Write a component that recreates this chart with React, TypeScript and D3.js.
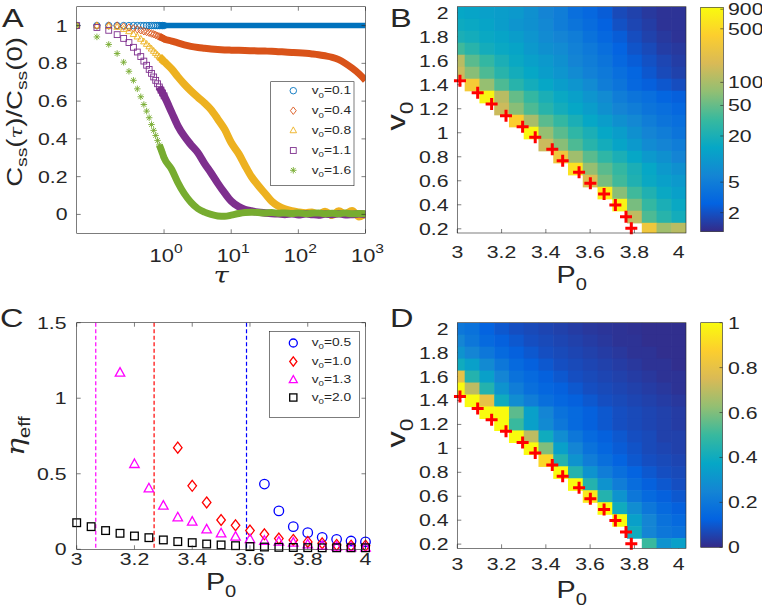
import React from "react";
import * as d3 from "d3";

// ---------------- DATA ----------------
// Panel A: normalized autocorrelation C_ss(tau)/C_ss(0)
const TAU_EARLY = [0.05, 0.1, 0.15, 0.2, 0.25, 0.3, 0.35, 0.4, 0.45, 0.5, 0.55, 0.6, 0.65, 0.7, 0.75, 0.8, 0.85, 0.9, 0.95, 1.0];
const A_EARLY_01 = [1, 1, 1, 1, 1, 1, 1, 1, 1, 1, 1, 1, 1, 1, 1, 1, 1, 1, 1, 1];
const A_EARLY_04 = [1, 1, 1, 1, 0.995, 0.99, 0.985, 0.98, 0.975, 0.97, 0.966, 0.962, 0.958, 0.954, 0.95, 0.946, 0.942, 0.938, 0.934, 0.93];
const A_EARLY_08 = [1, 1, 0.997, 0.993, 0.982, 0.97, 0.955, 0.942, 0.93, 0.916, 0.903, 0.89, 0.878, 0.866, 0.855, 0.845, 0.836, 0.827, 0.818, 0.81];
const A_EARLY_11 = [1, 0.99, 0.975, 0.952, 0.932, 0.91, 0.885, 0.86, 0.836, 0.812, 0.79, 0.768, 0.747, 0.728, 0.71, 0.692, 0.675, 0.658, 0.643, 0.628];
const A_EARLY_16 = [1, 0.94, 0.9, 0.852, 0.806, 0.758, 0.71, 0.665, 0.623, 0.582, 0.547, 0.512, 0.476, 0.445, 0.418, 0.392, 0.368, 0.345, 0.322, 0.3];

const TAU_BAND = [1.3, 1.6, 2, 2.5, 3.2, 4, 5, 6.3, 8, 10, 13, 16, 20, 25, 32, 40, 50, 63, 80, 100, 130, 160, 200, 250, 320, 400, 500, 630, 800, 1000];
const A_BAND_01 = [1, 1, 1, 1, 1, 1, 1, 1, 1, 1, 1, 1, 1, 1, 1, 1, 1, 1, 1, 1, 1, 1, 1, 1, 1, 1, 1, 1, 1, 1];
const A_BAND_04 = [0.918, 0.908, 0.898, 0.89, 0.884, 0.88, 0.876, 0.873, 0.871, 0.87, 0.869, 0.868, 0.867, 0.866, 0.865, 0.864, 0.862, 0.86, 0.858, 0.856, 0.853, 0.85, 0.846, 0.84, 0.832, 0.82, 0.8, 0.775, 0.745, 0.71];
const A_BAND_08 = [0.77, 0.73, 0.69, 0.655, 0.62, 0.59, 0.555, 0.505, 0.45, 0.38, 0.32, 0.26, 0.2, 0.155, 0.11, 0.07, 0.045, 0.028, 0.018, 0.012, 0.008, 0.012, 0.0, 0.015, -0.005, 0.018, 0.002, 0.02, -0.012, 0.005];
const A_BAND_11 = [0.54, 0.47, 0.414, 0.37, 0.326, 0.27, 0.22, 0.165, 0.113, 0.07, 0.04, 0.026, 0.018, 0.012, 0.008, 0.005, 0.003, 0.0, 0.004, -0.002, 0.003, 0.0, -0.003, 0.002, 0.0, 0.004, -0.002, 0.0, 0.003, 0.0];
const A_BAND_16 = [0.238, 0.17, 0.11, 0.065, 0.03, 0.012, 0.0, -0.008, -0.01, -0.004, 0.005, 0.01, 0.012, 0.01, 0.008, 0.01, 0.006, 0.008, 0.005, 0.007, 0.004, 0.006, 0.008, 0.003, 0.006, 0.004, 0.007, 0.003, 0.005, 0.004];

const A_LABELS = ["0.1", "0.4", "0.8", "1.1", "1.6"];
const A_COLORS = ["#0072bd", "#d95319", "#edb120", "#7e2f8e", "#77ac30"];
const A_MARKERS = ["o", "d", "^", "s", "*"];
const A_YTICKS = [0, 0.2, 0.4, 0.6, 0.8, 1];
const A_XTICKS = [1, 10, 100, 1000];
const A_XEXP = ["0", "1", "2", "3"];

// Heatmap grid (panels B and D)
const P0_COLS = [3.0, 3.0667, 3.1333, 3.2, 3.2667, 3.3333, 3.4, 3.4667, 3.5333, 3.6, 3.6667, 3.7333, 3.8, 3.8667, 3.9333, 4.0];
const V0_ROWS = [2.0, 1.9, 1.8, 1.7, 1.6, 1.5, 1.4, 1.3, 1.2, 1.1, 1.0, 0.9, 0.8, 0.7, 0.6, 0.5, 0.4, 0.3, 0.2];
const n = null;
// Panel B: relaxation time (log colour scale)
const B_VALUES = [
  [14, 13, 12, 11, 10, 8, 6, 5, 3.5, 3, 2.4, 1.8, 1.6, 1.4, 1.3, 1.3],
  [16, 15, 13, 11, 9, 8, 6.5, 5, 4, 3.3, 2.6, 2, 1.7, 1.5, 1.3, 1.3],
  [20, 18, 15, 13, 11, 9, 7, 6, 5, 3.8, 3, 2.4, 1.9, 1.6, 1.4, 1.3],
  [35, 25, 18, 15, 13, 10, 8, 7, 5.5, 4.5, 3.5, 2.7, 2.1, 1.8, 1.5, 1.4],
  [120, 45, 30, 20, 15, 12, 10, 8, 6, 5, 4, 3, 2.4, 2, 1.7, 1.5],
  [150, 70, 40, 25, 18, 14, 11, 9, 7, 5.5, 4.5, 3.5, 2.8, 2.2, 1.8, 1.6],
  [n, 350, 80, 40, 25, 18, 14, 11, 9, 7, 5, 4, 3, 2.5, 2.2, 1.9],
  [n, n, 850, 120, 50, 30, 20, 15, 12, 9, 7, 5, 4, 3.5, 2.8, 2.5],
  [n, n, n, 150, 70, 40, 25, 18, 14, 11, 8, 6, 5, 4, 3.5, 3],
  [n, n, n, n, 400, 100, 45, 30, 20, 14, 11, 8, 6.5, 5, 4, 3.5],
  [n, n, n, n, n, 900, 80, 45, 28, 20, 14, 11, 8, 6, 5, 4],
  [n, n, n, n, n, n, 150, 70, 40, 25, 18, 13, 10, 7, 6, 5],
  [n, n, n, n, n, n, n, 300, 90, 45, 28, 20, 14, 10, 8, 6],
  [n, n, n, n, n, n, n, n, 600, 80, 45, 30, 20, 14, 10, 8],
  [n, n, n, n, n, n, n, n, n, 200, 60, 35, 22, 15, 12, 10],
  [n, n, n, n, n, n, n, n, n, n, 700, 70, 35, 22, 15, 12],
  [n, n, n, n, n, n, n, n, n, n, n, 800, 60, 30, 20, 15],
  [n, n, n, n, n, n, n, n, n, n, n, n, 130, 40, 25, 18],
  [n, n, n, n, n, n, n, n, n, n, n, n, n, 300, 90, 120],
];
// Panel D: linear colour scale 0..1
const D_VALUES = [
  [0.2, 0.18, 0.13, 0.1, 0.08, 0.07, 0.06, 0.05, 0.04, 0.03, 0.025, 0.02, 0.015, 0.01, 0.01, 0.01],
  [0.25, 0.2, 0.15, 0.12, 0.1, 0.08, 0.07, 0.06, 0.05, 0.04, 0.03, 0.02, 0.02, 0.01, 0.01, 0.01],
  [0.3, 0.25, 0.2, 0.15, 0.12, 0.1, 0.08, 0.07, 0.06, 0.05, 0.04, 0.03, 0.02, 0.02, 0.01, 0.01],
  [0.4, 0.35, 0.27, 0.2, 0.15, 0.12, 0.1, 0.08, 0.07, 0.06, 0.05, 0.04, 0.03, 0.02, 0.02, 0.01],
  [0.8, 0.45, 0.35, 0.25, 0.18, 0.15, 0.12, 0.1, 0.08, 0.07, 0.06, 0.05, 0.04, 0.03, 0.02, 0.02],
  [1.0, 0.7, 0.45, 0.3, 0.22, 0.17, 0.14, 0.12, 0.1, 0.08, 0.07, 0.06, 0.05, 0.04, 0.03, 0.02],
  [n, 1.0, 0.8, 0.4, 0.28, 0.22, 0.17, 0.14, 0.12, 0.1, 0.08, 0.07, 0.06, 0.05, 0.04, 0.03],
  [n, n, 1.0, 1.0, 0.55, 0.35, 0.25, 0.18, 0.15, 0.12, 0.1, 0.08, 0.07, 0.06, 0.05, 0.04],
  [n, n, n, 1.0, 0.5, 0.35, 0.27, 0.2, 0.15, 0.12, 0.1, 0.08, 0.07, 0.06, 0.05, 0.04],
  [n, n, n, n, 1.0, 0.7, 0.4, 0.28, 0.2, 0.15, 0.12, 0.1, 0.08, 0.07, 0.05, 0.05],
  [n, n, n, n, n, 1.0, 0.6, 0.35, 0.25, 0.18, 0.14, 0.11, 0.09, 0.07, 0.06, 0.05],
  [n, n, n, n, n, n, 0.9, 0.45, 0.3, 0.22, 0.17, 0.13, 0.1, 0.08, 0.07, 0.06],
  [n, n, n, n, n, n, n, 1.0, 0.45, 0.3, 0.22, 0.17, 0.13, 0.1, 0.08, 0.07],
  [n, n, n, n, n, n, n, n, 1.0, 0.45, 0.3, 0.22, 0.16, 0.12, 0.1, 0.08],
  [n, n, n, n, n, n, n, n, n, 0.95, 0.45, 0.3, 0.2, 0.15, 0.12, 0.1],
  [n, n, n, n, n, n, n, n, n, n, 1.0, 0.4, 0.28, 0.2, 0.15, 0.12],
  [n, n, n, n, n, n, n, n, n, n, n, 1.0, 0.35, 0.25, 0.18, 0.15],
  [n, n, n, n, n, n, n, n, n, n, n, n, 0.4, 0.25, 0.2, 0.18],
  [n, n, n, n, n, n, n, n, n, n, n, n, n, 0.5, 0.3, 0.35],
];
// Critical line markers (red +)
const CRIT_P0 = [3.012, 3.092, 3.155, 3.22, 3.295, 3.352, 3.429, 3.476, 3.55, 3.601, 3.663, 3.714, 3.762, 3.786];
const CRIT_V0 = [1.434, 1.334, 1.24, 1.142, 1.05, 0.962, 0.862, 0.767, 0.671, 0.579, 0.49, 0.398, 0.301, 0.204];
const HEAT_XTICKS = [3, 3.2, 3.4, 3.6, 3.8, 4];
const HEAT_YTICKS = [0.2, 0.4, 0.6, 0.8, 1, 1.2, 1.4, 1.6, 1.8, 2];
const B_CB_TICKS = [2, 5, 20, 50, 100, 500, 900];
const D_CB_TICKS = [0, 0.2, 0.4, 0.6, 0.8, 1];

// Panel C: effective viscosity
const C_P0_05 = [3.65, 3.7, 3.75, 3.8, 3.85, 3.9, 3.95, 4.0];
const C_ETA_05 = [0.432, 0.254, 0.15, 0.11, 0.079, 0.066, 0.055, 0.049];
const C_P0_10 = [3.35, 3.4, 3.45, 3.5, 3.55, 3.6, 3.65, 3.7, 3.75, 3.8, 3.85, 3.9, 3.95, 4.0];
const C_ETA_10 = [0.673, 0.42, 0.31, 0.194, 0.159, 0.124, 0.099, 0.071, 0.062, 0.049, 0.04, 0.029, 0.024, 0.024];
const C_P0_13 = [3.15, 3.2, 3.25, 3.3, 3.35, 3.4, 3.45, 3.5, 3.55, 3.6, 3.65, 3.7, 3.75, 3.8, 3.85, 3.9, 3.95, 4.0];
const C_ETA_13 = [1.17, 0.565, 0.404, 0.289, 0.212, 0.183, 0.132, 0.106, 0.084, 0.068, 0.057, 0.051, 0.044, 0.033, 0.024, 0.018, 0.013, 0.011];
const C_P0_20 = [3.0, 3.05, 3.1, 3.15, 3.2, 3.25, 3.3, 3.35, 3.4, 3.45, 3.5, 3.55, 3.6, 3.65, 3.7, 3.75, 3.8, 3.85, 3.9, 3.95, 4.0];
const C_ETA_20 = [0.176, 0.15, 0.124, 0.106, 0.088, 0.077, 0.062, 0.051, 0.044, 0.035, 0.029, 0.024, 0.018, 0.015, 0.013, 0.012, 0.011, 0.01, 0.01, 0.01, 0.01];
const C_LABELS = ["0.5", "1.0", "1.3", "2.0"];
const C_COLORS = ["#0000ff", "#ff0000", "#ff00ff", "#000000"];
const C_MARKERS = ["o", "d", "^", "s"];
const C_CRIT = [3.588, 3.268, 3.066];
const C_CRIT_COLORS = ["#0000ff", "#ff0000", "#ff00ff"];
const C_XTICKS = [3, 3.2, 3.4, 3.6, 3.8, 4];
const C_YTICKS = [0, 0.5, 1, 1.5];

// ---------------- STYLE ----------------
const SX = 1.25; // glyphs in the reference are wide along their writing direction
const FONT = "'Liberation Sans', Arial, Helvetica, sans-serif";
const SERIF = "'DejaVu Serif', 'Liberation Serif', serif";
const AXC = "#262626";
const PARULA = ["#352a87", "#0363e1", "#1485d4", "#06a7c6", "#38b99e", "#92bf73", "#d9ba56", "#fcce2e", "#f9fb0e"];
const parula = d3
  .scaleLinear<string>()
  .domain(PARULA.map((_, i) => i / (PARULA.length - 1)))
  .range(PARULA)
  .interpolate(d3.interpolateRgb)
  .clamp(true);

function T({ x, y, size, anchor = "start", rot = false, italic = false, family = FONT, children }: any) {
  return (
    <g transform={`translate(${x},${y})${rot ? " rotate(-90)" : ""} scale(${SX},1)`}>
      <text fontSize={size} fontFamily={family} textAnchor={anchor} fill={AXC} fontStyle={italic ? "italic" : "normal"}>
        {children}
      </text>
    </g>
  );
}

function Mk({ type, x, y, s, color, sw = 1 }: any) {
  const h = s / 2;
  const common = { fill: "none", stroke: color, strokeWidth: sw };
  if (type === "o") return <circle cx={x} cy={y} r={h} {...common} />;
  if (type === "d")
    return <path d={`M${x},${y - h * 1.15}L${x + h * 0.9},${y}L${x},${y + h * 1.15}L${x - h * 0.9},${y}Z`} {...common} />;
  if (type === "^")
    return <path d={`M${x},${y - h * 1.05}L${x + h},${y + h * 0.75}L${x - h},${y + h * 0.75}Z`} {...common} />;
  if (type === "s") return <rect x={x - h * 0.9} y={y - h * 0.9} width={s * 0.9} height={s * 0.9} {...common} />;
  const d = h * 0.72;
  return (
    <path
      d={`M${x - h},${y}L${x + h},${y}M${x},${y - h}L${x},${y + h}M${x - d},${y - d}L${x + d},${y + d}M${x - d},${y + d}L${x + d},${y - d}`}
      {...common}
    />
  );
}

function Sub({ main, sub, size, tail = "" }: any) {
  const s = size * 0.7;
  const dy = size * 0.3;
  return (
    <>
      <tspan>{main}</tspan>
      <tspan fontSize={s} dy={dy}>{sub}</tspan>
      {tail ? <tspan dy={-dy}>{tail}</tspan> : null}
    </>
  );
}

// ---------------- PANEL A ----------------
function PanelA() {
  const L = 76.7, R = 365.5, Tp = 6.7, Bt = 233.3;
  const x = d3.scaleLog().domain([0.05, 1000]).range([L, R]);
  const y = d3.scaleLinear().domain([-0.1, 1.1]).range([Bt, Tp]);
  const early = [A_EARLY_01, A_EARLY_04, A_EARLY_08, A_EARLY_11, A_EARLY_16];
  const band = [A_BAND_01, A_BAND_04, A_BAND_08, A_BAND_11, A_BAND_16];
  const widths = [5.5, 7, 7.5, 7.5, 7];
  const line = d3
    .line<[number, number]>()
    .x((d) => x(d[0]))
    .y((d) => y(d[1]))
    .curve(d3.curveMonotoneX);
  const legendY = [90.7, 110.7, 130.3, 150.5, 170.3];
  return (
    <g>
      <defs>
        <clipPath id="clipA">
          <rect x={L} y={Tp} width={R - L} height={Bt - Tp} />
        </clipPath>
      </defs>
      <g clipPath="url(#clipA)">
        {early.map((ev, si) => {
          const pts: [number, number][] = [];
          TAU_EARLY.forEach((t, i) => {
            if (t >= 0.85) pts.push([t, ev[i]]);
          });
          TAU_BAND.forEach((t, i) => pts.push([t, band[si][i]]));
          return (
            <g key={si}>
              <path d={line(pts) || ""} fill="none" stroke={A_COLORS[si]} strokeWidth={widths[si]} strokeLinecap="butt" strokeLinejoin="round" />
              {TAU_EARLY.map((t, i) => (
                <Mk key={i} type={A_MARKERS[si]} x={x(t)} y={y(ev[i])} s={6.5} color={A_COLORS[si]} sw={0.9} />
              ))}
            </g>
          );
        })}
      </g>
      {/* axes box */}
      <rect x={L} y={Tp} width={R - L} height={Bt - Tp} fill="none" stroke={AXC} strokeWidth={0.6} />
      {A_YTICKS.map((v) => (
        <g key={v}>
          <line x1={L} x2={L + 4} y1={y(v)} y2={y(v)} stroke={AXC} strokeWidth={0.6} />
          <line x1={R} x2={R - 4} y1={y(v)} y2={y(v)} stroke={AXC} strokeWidth={0.6} />
          <T x={67.5} y={y(v) + 6} size={17} anchor="end">{String(v)}</T>
        </g>
      ))}
      {A_XTICKS.map((t, i) => (
        <g key={t}>
          <line x1={x(t)} x2={x(t)} y1={Bt} y2={Bt - 4} stroke={AXC} strokeWidth={0.6} />
          <line x1={x(t)} x2={x(t)} y1={Tp} y2={Tp + 4} stroke={AXC} strokeWidth={0.6} />
          <T x={x(t) + 2} y={261.5} size={17.5} anchor="middle">
            <tspan>10</tspan>
            <tspan fontSize={12.5} dy={-9}>{A_XEXP[i]}</tspan>
          </T>
        </g>
      ))}
      <T x={(L + R) / 2} y={283} size={22} anchor="middle" italic family={SERIF}>τ</T>
      <T x={22} y={112} size={22} anchor="middle" rot>
        <tspan>C</tspan>
        <tspan fontSize={15.5} dy={5}>ss</tspan>
        <tspan dy={-5}>(</tspan>
        <tspan fontStyle="italic" fontFamily={SERIF} fontSize={17}>τ</tspan>
        <tspan>)/C</tspan>
        <tspan fontSize={15.5} dy={5}>ss</tspan>
        <tspan dy={-5}>(0)</tspan>
      </T>
      {/* legend */}
      <rect x={270.7} y={81.7} width={83.3} height={104} fill="#fff" stroke={AXC} strokeWidth={0.6} />
      {A_LABELS.map((lab, i) => (
        <g key={lab}>
          <Mk type={A_MARKERS[i]} x={293.3} y={legendY[i]} s={6.5} color={A_COLORS[i]} sw={0.9} />
          <T x={311.7} y={legendY[i] + 3.5} size={11}>
            <Sub main="v" sub="0" size={11} tail={"=" + lab} />
          </T>
        </g>
      ))}
      <T x={2} y={27} size={26}>A</T>
    </g>
  );
}

// ---------------- PANEL C ----------------
function PanelC() {
  const L = 76.7, R = 365.5, Tp = 322.7, Bt = 549.3;
  const x = d3.scaleLinear().domain([3, 4]).range([L, R]);
  const y = d3.scaleLinear().domain([0, 1.5]).range([Bt, Tp]);
  const series = [
    [C_P0_05, C_ETA_05],
    [C_P0_10, C_ETA_10],
    [C_P0_13, C_ETA_13],
    [C_P0_20, C_ETA_20],
  ];
  const sizes = [9.5, 9.5, 9.5, 8.5];
  const legendY = [343, 361.5, 379.7, 397.5];
  return (
    <g>
      {C_CRIT.map((p, i) => (
        <line key={i} x1={x(p)} x2={x(p)} y1={Tp} y2={Bt} stroke={C_CRIT_COLORS[i]} strokeWidth={1.2} strokeDasharray="4,2.5" />
      ))}
      {series.map((s, si) => (
        <g key={si}>
          {s[0].map((p, i) => (
            <Mk key={i} type={C_MARKERS[si]} x={x(p)} y={y(s[1][i])} s={sizes[si]} color={C_COLORS[si]} sw={1.3} />
          ))}
        </g>
      ))}
      <rect x={L} y={Tp} width={R - L} height={Bt - Tp} fill="none" stroke={AXC} strokeWidth={0.6} />
      {C_YTICKS.map((v) => (
        <g key={v}>
          <line x1={L} x2={L + 4} y1={y(v)} y2={y(v)} stroke={AXC} strokeWidth={0.6} />
          <line x1={R} x2={R - 4} y1={y(v)} y2={y(v)} stroke={AXC} strokeWidth={0.6} />
          <T x={66.5} y={y(v) + 6} size={17} anchor="end">{String(v)}</T>
        </g>
      ))}
      {C_XTICKS.map((p) => (
        <g key={p}>
          <line x1={x(p)} x2={x(p)} y1={Bt} y2={Bt - 4} stroke={AXC} strokeWidth={0.6} />
          <line x1={x(p)} x2={x(p)} y1={Tp} y2={Tp + 4} stroke={AXC} strokeWidth={0.6} />
          <T x={x(p)} y={565} size={17} anchor="middle">{String(p)}</T>
        </g>
      ))}
      <T x={(L + R) / 2} y={590} size={23} anchor="middle">
        <Sub main="P" sub="0" size={23} />
      </T>
      <T x={24} y={436} size={24} anchor="middle" rot>
        <tspan fontStyle="italic" fontFamily={SERIF}>η</tspan>
        <tspan fontSize={16} dy={6}>eff</tspan>
      </T>
      <rect x={269.3} y={331.3} width={90} height={86} fill="#fff" stroke={AXC} strokeWidth={0.6} />
      {C_LABELS.map((lab, i) => (
        <g key={lab}>
          <Mk type={C_MARKERS[i]} x={293.3} y={legendY[i]} s={8} color={C_COLORS[i]} sw={1.3} />
          <T x={311.7} y={legendY[i] + 3} size={11}>
            <Sub main="v" sub="0" size={11} tail={"=" + lab} />
          </T>
        </g>
      ))}
      <T x={0} y={326.7} size={26}>C</T>
    </g>
  );
}

// ---------------- HEATMAP PANELS ----------------
function Heat({ id, top, bottom, matrix, colorOf, cb, cbTicks, cbScale, xTickBase, pBase, vCenter, letter, letterBase }: any) {
  const L = 457.3, R = 686;
  const x = d3.scaleLinear().domain([3, 4.033]).range([L, R]);
  const y = d3.scaleLinear().domain([0.165, 2.05]).range([bottom, top]);
  const cells: any[] = [];
  matrix.forEach((row: (number | null)[], i: number) => {
    row.forEach((v, j) => {
      if (v === null) return;
      const p = P0_COLS[j];
      const q = V0_ROWS[i];
      const x0 = x(p - 1 / 30), x1 = x(p + 1 / 30);
      const y0 = y(q + 0.05), y1 = y(q - 0.05);
      cells.push(<rect key={`${i}-${j}`} x={x0} y={y0} width={x1 - x0 + 0.6} height={y1 - y0 + 0.6} fill={colorOf(v)} />);
    });
  });
  return (
    <g>
      <defs>
        <clipPath id={`clip${id}`}>
          <rect x={L} y={top} width={R - L} height={bottom - top} />
        </clipPath>
        <linearGradient id={`grad${id}`} x1="0" x2="0" y1="1" y2="0">
          {PARULA.map((c, i) => (
            <stop key={i} offset={i / (PARULA.length - 1)} stopColor={c} />
          ))}
        </linearGradient>
      </defs>
      {HEAT_YTICKS.map((v) => (
        <line key={v} x1={L} x2={L + 4} y1={y(v)} y2={y(v)} stroke={AXC} strokeWidth={0.6} />
      ))}
      {HEAT_XTICKS.map((p) => (
        <line key={p} x1={x(p)} x2={x(p)} y1={bottom} y2={bottom - 4} stroke={AXC} strokeWidth={0.6} />
      ))}
      <g clipPath={`url(#clip${id})`}>{cells}</g>
      {CRIT_P0.map((p, i) => (
        <path
          key={i}
          d={`M${x(p) - 6},${y(CRIT_V0[i])}H${x(p) + 6}M${x(p)},${y(CRIT_V0[i]) - 6}V${y(CRIT_V0[i]) + 6}`}
          stroke="#ff0000"
          strokeWidth={3}
        />
      ))}
      <rect x={L} y={top} width={R - L} height={bottom - top} fill="none" stroke={AXC} strokeWidth={0.6} />
      {HEAT_YTICKS.map((v) => (
        <T key={v} x={448.5} y={y(v) + 6} size={17} anchor="end">{String(v)}</T>
      ))}
      {HEAT_XTICKS.map((p) => (
        <T key={p} x={x(p)} y={xTickBase} size={17} anchor="middle">{String(p)}</T>
      ))}
      <T x={(L + R) / 2} y={pBase} size={23} anchor="middle">
        <Sub main="P" sub="0" size={23} />
      </T>
      <T x={405} y={vCenter} size={26} anchor="middle" rot>
        <Sub main="v" sub="0" size={26} />
      </T>
      {/* colorbar */}
      <rect x={cb.x0} y={cb.y0} width={cb.x1 - cb.x0} height={cb.y1 - cb.y0} fill={`url(#grad${id})`} stroke={AXC} strokeWidth={0.6} />
      {cbTicks.map((t: number) => (
        <g key={t}>
          <line x1={cb.x1} x2={cb.x1 - 3} y1={cbScale(t)} y2={cbScale(t)} stroke={AXC} strokeWidth={0.6} />
          <T x={728} y={cbScale(t) + 6} size={17}>{String(t)}</T>
        </g>
      ))}
      <T x={390} y={letterBase} size={26}>{letter}</T>
    </g>
  );
}

export default function App() {
  const bLog = d3.scaleLog().domain([1.13, 953]).range([0, 1]);
  const bCb = d3.scaleLog().domain([1.13, 953]).range([231.7, 7.3]);
  const dCb = d3.scaleLinear().domain([0, 1]).range([547.3, 322.7]);
  return (
    <svg width={762} height={612} style={{ position: "absolute", left: 0, top: 0, background: "#fff" }}>
      <rect x={0} y={0} width={762} height={612} fill="#fff" />
      <PanelA />
      <Heat
        id="B"
        top={6.7}
        bottom={233}
        matrix={B_VALUES}
        colorOf={(v: number) => parula(bLog(v))}
        cb={{ x0: 700.7, x1: 723.3, y0: 7.3, y1: 231.7 }}
        cbTicks={B_CB_TICKS}
        cbScale={bCb}
        xTickBase={258.3}
        pBase={283.3}
        vCenter={116}
        letter="B"
        letterBase={26.7}
      />
      <PanelC />
      <Heat
        id="D"
        top={322.7}
        bottom={548.3}
        matrix={D_VALUES}
        colorOf={(v: number) => parula(v)}
        cb={{ x0: 700.7, x1: 722.5, y0: 322.7, y1: 547.3 }}
        cbTicks={D_CB_TICKS}
        cbScale={dCb}
        xTickBase={570}
        pBase={597.7}
        vCenter={433}
        letter="D"
        letterBase={327}
      />
    </svg>
  );
}
